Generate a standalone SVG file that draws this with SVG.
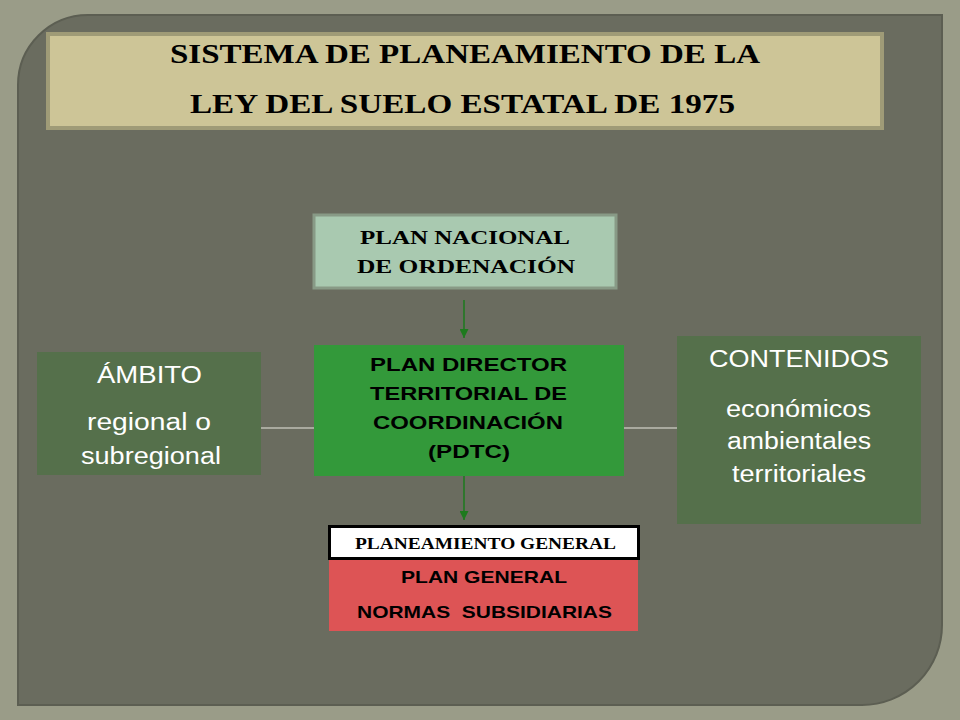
<svg xmlns="http://www.w3.org/2000/svg" width="960" height="720" viewBox="0 0 960 720">
<style>
.serif{font-family:"Liberation Serif","DejaVu Serif",serif;font-weight:bold;fill:#000}
.sans{font-family:"Liberation Sans",Arial,sans-serif;fill:#000;font-weight:bold}
.w{font-family:"Liberation Sans",Arial,sans-serif;fill:#fff}
</style>
<defs>
<marker id="arr" viewBox="0 0 10 10" refX="10" refY="5" markerWidth="9" markerHeight="9" orient="auto" markerUnits="userSpaceOnUse"><path d="M0,0 L10,5 L0,10 Z" fill="#1d7a1d"/></marker>
</defs>
<rect width="960" height="720" fill="#9a9c88"/>
<path d="M88,15 H942 V625 A80,80 0 0 1 862,705 H18 V85 A70,70 0 0 1 88,15 Z" fill="#6a6c5f" stroke="#5c5e52" stroke-width="2"/>
<g id="title">
<rect x="48" y="34" width="834" height="94" fill="#cdc597" stroke="#9f9b77" stroke-width="4"/>
<text class="serif" x="170" y="63" font-size="27" textLength="590" lengthAdjust="spacingAndGlyphs">SISTEMA DE PLANEAMIENTO  DE LA</text>
<text class="serif" x="190" y="113" font-size="27" textLength="545" lengthAdjust="spacingAndGlyphs">LEY DEL SUELO ESTATAL DE 1975</text>
</g>
<g id="connectors">
<line x1="464" y1="300" x2="464" y2="338" stroke="#1d7a1d" stroke-width="1.5" marker-end="url(#arr)"/>
<line x1="464" y1="476" x2="464" y2="520" stroke="#1d7a1d" stroke-width="1.5" marker-end="url(#arr)"/>
<line x1="261" y1="428" x2="314" y2="428" stroke="#e8e8e0" stroke-width="1"/>
<line x1="624" y1="428" x2="677" y2="428" stroke="#e8e8e0" stroke-width="1"/>
</g>
<g id="pnacional">
<rect x="314" y="215" width="302" height="73" fill="#a9c9b0" stroke="#889a86" stroke-width="3"/>
<text class="serif" x="360" y="244" font-size="19" textLength="210" lengthAdjust="spacingAndGlyphs">PLAN NACIONAL</text>
<text class="serif" x="357" y="273" font-size="19" textLength="218" lengthAdjust="spacingAndGlyphs">DE ORDENACIÓN</text>
</g>
<g id="pdtc">
<rect x="314" y="345" width="310" height="131" fill="#33993a"/>
<text class="sans" x="370" y="371" font-size="18.5" textLength="197" lengthAdjust="spacingAndGlyphs">PLAN DIRECTOR</text>
<text class="sans" x="370" y="400" font-size="18.5" textLength="197" lengthAdjust="spacingAndGlyphs">TERRITORIAL DE</text>
<text class="sans" x="373" y="429" font-size="18.5" textLength="190" lengthAdjust="spacingAndGlyphs">COORDINACIÓN</text>
<text class="sans" x="428" y="458" font-size="18.5" textLength="82" lengthAdjust="spacingAndGlyphs">(PDTC)</text>
</g>
<g id="ambito">
<rect x="37" y="352" width="224" height="123" fill="#55704b"/>
<text class="w" x="97" y="383" font-size="23" textLength="105" lengthAdjust="spacingAndGlyphs">ÁMBITO</text>
<text class="w" x="87" y="430" font-size="23" textLength="124" lengthAdjust="spacingAndGlyphs">regional o</text>
<text class="w" x="81" y="464" font-size="23" textLength="140" lengthAdjust="spacingAndGlyphs">subregional</text>
</g>
<g id="contenidos">
<rect x="677" y="336" width="244" height="188" fill="#55704b"/>
<text class="w" x="709" y="367" font-size="23" textLength="180" lengthAdjust="spacingAndGlyphs">CONTENIDOS</text>
<text class="w" x="726" y="417" font-size="23" textLength="145" lengthAdjust="spacingAndGlyphs">económicos</text>
<text class="w" x="727" y="449" font-size="23" textLength="144" lengthAdjust="spacingAndGlyphs">ambientales</text>
<text class="w" x="732" y="482" font-size="23" textLength="134" lengthAdjust="spacingAndGlyphs">territoriales</text>
</g>
<g id="planeamiento">
<rect x="329" y="559" width="309" height="72" fill="#dd5455"/>
<rect x="329.5" y="526.5" width="309" height="32" fill="#fff" stroke="#000" stroke-width="3"/>
<text class="serif" x="355" y="549" font-size="16" textLength="261" lengthAdjust="spacingAndGlyphs">PLANEAMIENTO GENERAL</text>
<text class="sans" x="401" y="583" font-size="17" textLength="166" lengthAdjust="spacingAndGlyphs">PLAN GENERAL</text>
<text class="sans" x="357" y="618" font-size="17" textLength="255" lengthAdjust="spacingAndGlyphs" xml:space="preserve">NORMAS  SUBSIDIARIAS</text>
</g>
</svg>
